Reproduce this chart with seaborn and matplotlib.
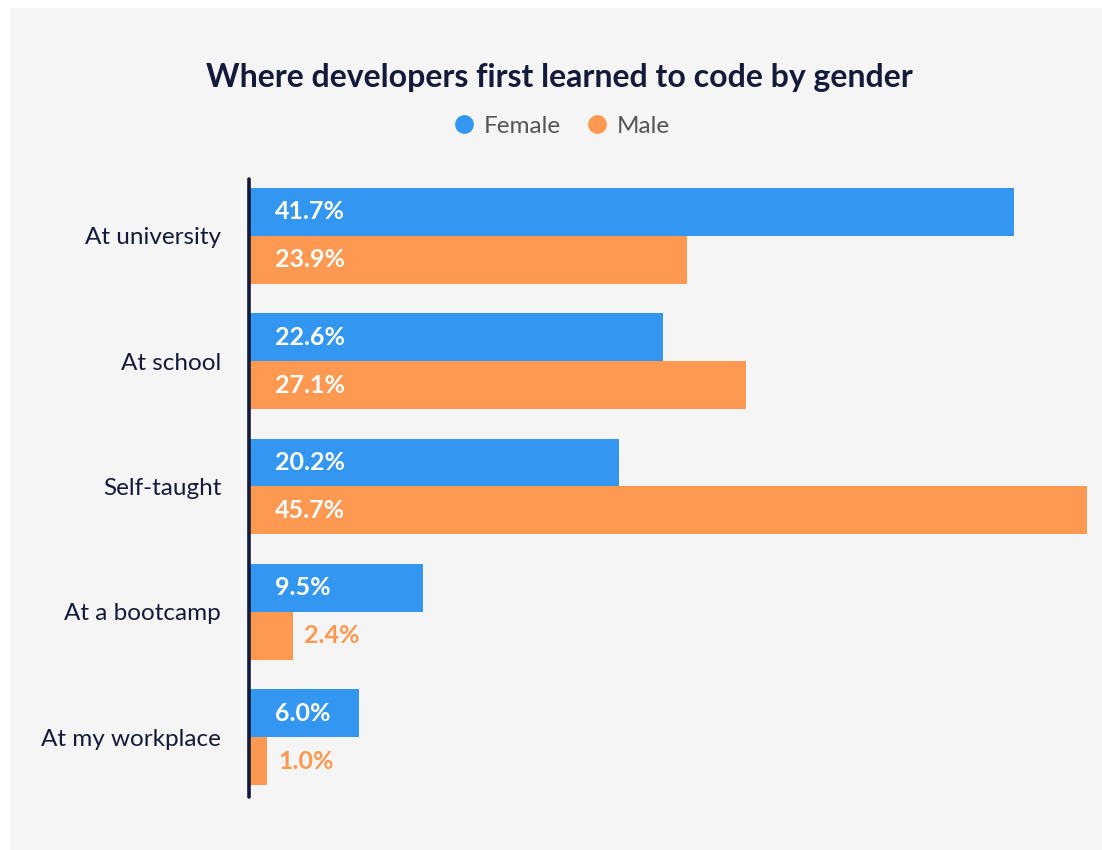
import matplotlib
matplotlib.use("Agg")
import matplotlib.pyplot as plt
from matplotlib.patches import Rectangle
from matplotlib.lines import Line2D
import seaborn as sns
import pandas as pd

categories = ["At university", "At school", "Self-taught", "At a bootcamp", "At my workplace"]
female = [41.7, 22.6, 20.2, 9.5, 6.0]
male = [23.9, 27.1, 45.7, 2.4, 1.0]
series_names = ["Female", "Male"]

BLUE = "#3397f2"
ORANGE = "#ff9850"
NAVY = "#151a3a"
PANEL = "#f5f5f5"

sns.set_theme(style="white")
plt.rcParams["font.family"] = ["Lato", "DejaVu Sans"]

df = pd.DataFrame({
    "category": categories * 2,
    "value": female + male,
    "gender": [series_names[0]] * len(categories) + [series_names[1]] * len(categories),
})

W, H = 1102, 850
fig = plt.figure(figsize=(W / 100, H / 100), dpi=100, facecolor="white")
fig.patches.append(Rectangle((10 / W, 0), 1 - 10 / W, 1 - 8 / H,
                             transform=fig.transFigure, facecolor=PANEL,
                             edgecolor="none", zorder=-10))

ax_left, ax_right = 249 / W, 1087 / W
ax_top, ax_bottom = 1 - 173 / H, 1 - 800 / H
ax = fig.add_axes([ax_left, ax_bottom, ax_right - ax_left, ax_top - ax_bottom])
ax.set_facecolor("none")

sns.barplot(data=df, y="category", x="value", hue="gender", orient="h",
            order=categories, hue_order=series_names,
            palette=[BLUE, ORANGE], width=0.765, dodge=True,
            saturation=1, linewidth=0, legend=False, ax=ax)

xmax = max(female + male)
ax.set_xlim(0, xmax)
ax.set_ylim(len(categories) - 0.5, -0.5)
ax.set_xlabel("")
ax.set_ylabel("")
ax.set_xticks([])
ax.tick_params(axis="y", length=0, pad=20, labelsize=17.5, labelcolor=NAVY)
for s in ["top", "right", "bottom"]:
    ax.spines[s].set_visible(False)
ax.spines["left"].set_color(NAVY)
ax.spines["left"].set_linewidth(2.6)
ax.spines["left"].set_capstyle("round")
ax.spines["left"].set_zorder(5)
ax.spines["left"].set_bounds(len(categories) - 0.52, -0.45)

# value labels: inside the bar in white, or just past the end in the bar colour
px = xmax / (1087 - 249)
for container, vals, color in zip(ax.containers, [female, male], [BLUE, ORANGE]):
    for bar, v in zip(container, vals):
        yc = bar.get_y() + bar.get_height() / 2
        if v >= 5:
            ax.text(26 * px, yc, f"{v:.1f}%", ha="left", va="center",
                    color="white", fontsize=18, fontweight="bold")
        else:
            ax.text(v + 11 * px, yc, f"{v:.1f}%", ha="left", va="center",
                    color=color, fontsize=18, fontweight="bold")

fig.text(0.508, 1 - 78 / H, "Where developers first learned to code by gender",
         ha="center", va="center", fontsize=23, fontweight="bold", color=NAVY)

handles = [Line2D([], [], marker="o", linestyle="none", markersize=12.5,
                  markerfacecolor=c, markeredgecolor=c) for c in (BLUE, ORANGE)]
leg = fig.legend(handles, series_names, loc="center", bbox_to_anchor=(0.509, 1 - 126 / H),
                 ncol=2, frameon=False, fontsize=17.5, handletextpad=0.3,
                 columnspacing=1.0, handlelength=1.0)
for t in leg.get_texts():
    t.set_color("#555555")

fig.savefig("out.png", dpi=100, facecolor="white")
